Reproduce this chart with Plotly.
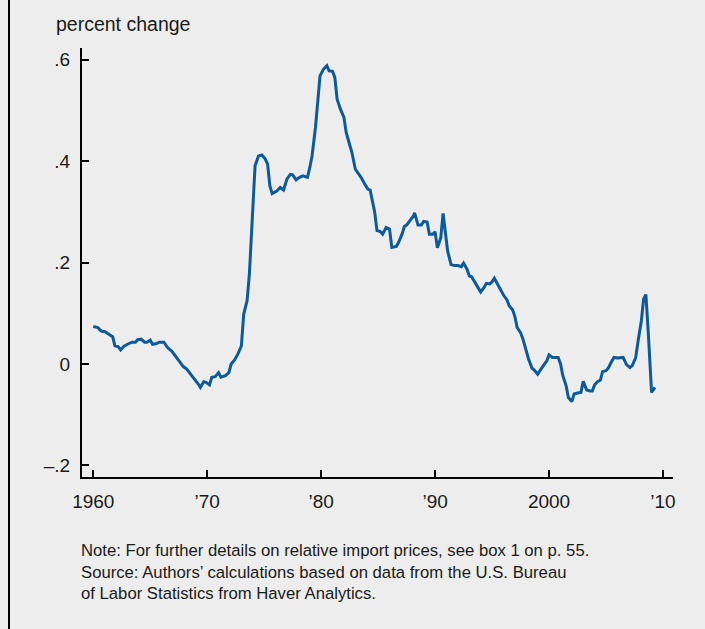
import plotly.graph_objects as go

years = [1960.0, 1960.4, 1960.6, 1960.8, 1961.0, 1961.3, 1961.7, 1961.9, 1962.2, 1962.4,
         1962.7, 1963.0, 1963.4, 1963.7, 1963.9, 1964.2, 1964.5, 1964.7, 1965.0, 1965.2,
         1965.5, 1965.8, 1966.2, 1966.5, 1966.9, 1967.2, 1967.6, 1967.9, 1968.2, 1968.6,
         1968.9, 1969.2, 1969.4, 1969.7, 1969.9, 1970.2, 1970.4, 1970.7, 1971.0, 1971.2,
         1971.6, 1971.9, 1972.1, 1972.4, 1972.7, 1973.0, 1973.2, 1973.5, 1973.7, 1974.0,
         1974.2, 1974.5, 1974.8, 1975.1, 1975.3, 1975.5, 1975.7, 1976.1, 1976.4, 1976.7,
         1977.0, 1977.3, 1977.5, 1977.8, 1978.1, 1978.4, 1978.8, 1979.0, 1979.2, 1979.5,
         1979.7, 1979.9, 1980.2, 1980.5, 1980.7, 1981.0, 1981.2, 1981.4, 1981.7, 1982.0,
         1982.2, 1982.5, 1982.7, 1983.0, 1983.2, 1983.5, 1983.8, 1984.1, 1984.3, 1984.5,
         1984.7, 1984.9, 1985.2, 1985.4, 1985.7, 1986.0, 1986.2, 1986.6, 1986.8, 1987.1,
         1987.3, 1987.5, 1987.8, 1988.1, 1988.2, 1988.5, 1988.8, 1989.0, 1989.3, 1989.5,
         1989.8, 1990.0, 1990.2, 1990.5, 1990.7, 1990.9, 1991.1, 1991.4, 1991.7, 1992.0,
         1992.3, 1992.5, 1992.8, 1993.0, 1993.2, 1993.5, 1993.8, 1994.0, 1994.3, 1994.5,
         1994.8, 1995.0, 1995.2, 1995.5, 1995.7, 1996.0, 1996.3, 1996.5, 1996.8, 1997.0,
         1997.2, 1997.5, 1997.7, 1998.0, 1998.2, 1998.5, 1998.7, 1999.0, 1999.2, 1999.5,
         1999.8, 2000.0, 2000.3, 2000.6, 2000.8, 2001.0, 2001.2, 2001.5, 2001.7, 2002.0,
         2002.2, 2002.5, 2002.8, 2003.0, 2003.3, 2003.6, 2003.8, 2004.0, 2004.3, 2004.5,
         2004.7, 2005.0, 2005.2, 2005.4, 2005.7, 2006.0, 2006.3, 2006.5, 2006.8, 2007.1,
         2007.3, 2007.6, 2007.8, 2008.1, 2008.3, 2008.5, 2008.7, 2009.0, 2009.3]

values = [0.074, 0.072, 0.067, 0.064, 0.064, 0.059, 0.054, 0.036, 0.034, 0.028,
          0.035, 0.039, 0.043, 0.043, 0.048, 0.049, 0.043, 0.043, 0.047, 0.039,
          0.040, 0.043, 0.043, 0.033, 0.025, 0.016, 0.003, -0.005, -0.010, -0.021,
          -0.030, -0.039, -0.046, -0.035, -0.036, -0.041, -0.026, -0.025, -0.017, -0.026,
          -0.023, -0.017, 0.000, 0.008, 0.020, 0.036, 0.098, 0.125, 0.177, 0.309,
          0.391, 0.410, 0.412, 0.404, 0.394, 0.351, 0.336, 0.341, 0.348, 0.343,
          0.365, 0.374, 0.373, 0.363, 0.368, 0.371, 0.368, 0.387, 0.410, 0.466,
          0.512, 0.568, 0.581, 0.588, 0.578, 0.577, 0.565, 0.522, 0.502, 0.486,
          0.456, 0.433, 0.417, 0.384, 0.378, 0.368, 0.356, 0.345, 0.343, 0.318,
          0.299, 0.263, 0.261, 0.256, 0.269, 0.266, 0.230, 0.232, 0.240, 0.256,
          0.271, 0.274, 0.284, 0.292, 0.298, 0.274, 0.274, 0.281, 0.280, 0.256,
          0.256, 0.261, 0.229, 0.249, 0.297, 0.263, 0.223, 0.196, 0.194, 0.194,
          0.192, 0.199, 0.187, 0.174, 0.172, 0.161, 0.148, 0.142, 0.151, 0.159,
          0.158, 0.162, 0.169, 0.156, 0.146, 0.136, 0.127, 0.115, 0.107, 0.094,
          0.072, 0.062, 0.050, 0.025, 0.010, -0.008, -0.012, -0.020, -0.012, -0.003,
          0.006, 0.018, 0.013, 0.013, 0.013, 0.001, -0.022, -0.043, -0.066, -0.074,
          -0.059, -0.057, -0.056, -0.034, -0.051, -0.053, -0.053, -0.041, -0.034, -0.032,
          -0.015, -0.013, -0.008, 0.001, 0.013, 0.012, 0.012, 0.013, -0.001, -0.007,
          -0.003, 0.012, 0.043, 0.085, 0.128, 0.137, 0.066, -0.056, -0.046]

x_tick_vals = [1960, 1970, 1980, 1990, 2000, 2010]
x_tick_text = ["1960", "\u201970", "\u201980", "\u201990", "2000", "\u201910"]
y_tick_vals = [-0.2, 0, 0.2, 0.4, 0.6]
y_tick_text = ["\u2013.2", "0", ".2", ".4", ".6"]

y_title = "percent change"
note_text = ("Note: For further details on relative import prices, see box 1 on p. 55.<br>"
             "Source: Authors\u2019 calculations based on data from the U.S. Bureau<br>"
             "of Labor Statistics from Haver Analytics.")

BG = "#ededed"
FONT = "Liberation Sans, Arial, Helvetica, sans-serif"
TXT = "#1a1a1a"

fig = go.Figure()
fig.add_trace(go.Scatter(x=years, y=values, mode="lines",
                         line=dict(color="#0b5a9c", width=3), hoverinfo="skip",
                         showlegend=False))

W, H = 705, 629
L, R, T, B = 82, 32, 48, 152
pw, ph = W - L - R, H - T - B

def px_x(p):
    return (p - L) / pw

def px_y(p):
    return (H - B - p) / ph

fig.update_layout(
    width=W, height=H,
    margin=dict(l=L, r=R, t=T, b=B, pad=0),
    paper_bgcolor=BG, plot_bgcolor=BG,
    font=dict(family=FONT, size=19, color=TXT),
    xaxis=dict(range=[1959.01, 2010.88], tickvals=x_tick_vals, ticktext=x_tick_text,
               showgrid=False, zeroline=False, showline=True, linecolor="black",
               linewidth=2, ticks="inside", ticklen=7, tickwidth=2, tickcolor="black",
               ticklabelstandoff=6, fixedrange=True),
    yaxis=dict(range=[-0.2227, 0.623], tickvals=y_tick_vals, ticktext=y_tick_text,
               showgrid=False, zeroline=False, showline=True, linecolor="black",
               linewidth=2, ticks="inside", ticklen=7, tickwidth=2, tickcolor="black",
               ticklabelstandoff=6, fixedrange=True),
    shapes=[dict(type="line", xref="paper", yref="paper",
                 x0=px_x(9), x1=px_x(9), y0=px_y(H), y1=px_y(0),
                 line=dict(color="black", width=2))],
    annotations=[
        dict(text=y_title, xref="paper", yref="paper", x=px_x(54), y=px_y(23.5),
             xanchor="left", yanchor="middle", showarrow=False,
             font=dict(family=FONT, size=19.5, color=TXT)),
        dict(text=note_text, xref="paper", yref="paper", x=px_x(79), y=px_y(538.5),
             xanchor="left", yanchor="top", align="left", showarrow=False,
             font=dict(family=FONT, size=16.7, color=TXT)),
    ],
)

fig.write_html("out.html", config={"displayModeBar": False},
               post_script="document.body.style.margin='0px';document.body.style.overflow='hidden';")
